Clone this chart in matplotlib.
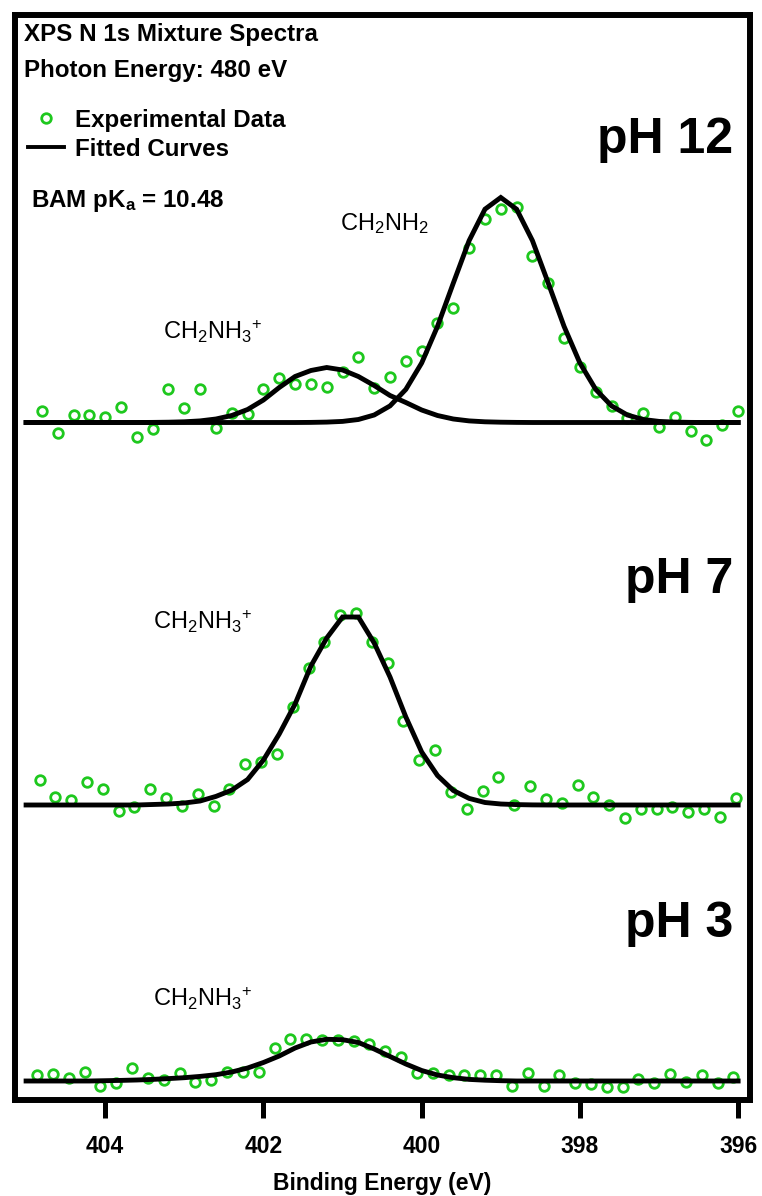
import numpy as np
import matplotlib.pyplot as plt
from matplotlib.lines import Line2D

plt.rcParams['font.family'] = ['Liberation Sans', 'DejaVu Sans']
plt.rcParams['mathtext.fontset'] = 'custom'
plt.rcParams['mathtext.rm'] = 'Liberation Sans'
plt.rcParams['mathtext.it'] = 'Liberation Sans:italic'
plt.rcParams['mathtext.bf'] = 'Liberation Sans:bold'

# N 1s spectra, intensity above each trace's own baseline (a.u.)
n_points = 45
start_ph12, start_ph7, start_ph3 = 404.80, 404.83, 404.86
step = 0.2

data_ph12 = [11.8, -10.8, 7.5, 7.5, 5.8, 15.8, -14.2, -6.8, 33.2, 14.2,
             33.8, -5.2, 9.8, 8.5, 33.2, 44.5, 38.5, 38.5, 35.8, 50.8,
             65.8, 34.2, 45.5, 61.5, 71.5, 99.2, 114.2, 174.8, 203.2, 213.5,
             215.8, 166.5, 139.8, 84.8, 55.8, 30.2, 16.5, 4.2, 9.2, -4.2,
             5.2, -8.2, -17.5, -2.5, 11.8]
data_ph7 = [25, 7.7, 5, 23.3, 16, -5.7, -1.7, 16, 7.3, -1,
            11, -1, 15.7, 40.7, 43.3, 51, 97.7, 136.7, 163.3, 190,
            191.7, 163.3, 142.3, 84.3, 45, 55, 12.7, -4.3, 14.3, 28.3,
            0, 19, 5.7, 1.7, 20, 7.7, 0, -13.3, -4.3, -4.3,
            -2.3, -6.7, -4.3, -11.7, 6.7]
data_ph3 = [6, 6.7, 3.3, 9.3, -4.7, -2.3, 12.7, 2.7, 1, 7.7,
            -0.7, 1, 9.3, 9.3, 9.3, 33.3, 42, 42, 41, 41,
            40.3, 36.7, 29.7, 23.7, 7.7, 7.7, 6, 6, 6, 6,
            -4.7, 7.7, -4.7, 6, -2.3, -3.3, -5.7, -5.7, 2, -2.3,
            6.7, -1.3, 6, -2.3, 4.3]

# fitted components on the 405.0 -> 396.0 eV grid
fit_energy = np.linspace(405.0, 396.0, 46)
fit_ph12_nh2 = [0, 0, 0, 0, 0, 0, 0, 0, 0, 0,
                0, 0, 0, 0, 0, 0, 0, 0, 0.1, 0.4,
                1.1, 3.0, 7.5, 16.6, 33.1, 59.5, 96.1, 139.4, 181.9, 213.3,
                225.0, 213.3, 181.9, 139.4, 96.1, 59.5, 33.1, 16.6, 7.5, 3.0,
                1.1, 0.4, 0.1, 0, 0, 0]
fit_ph12_nh3 = [0, 0, 0, 0, 0, 0, 0, 0, 0.1, 0.3,
                0.7, 1.6, 3.5, 7.0, 13.0, 22.5, 35.0, 46.0, 52.0, 55.0,
                52.5, 46.0, 37.0, 27.0, 20.0, 12.5, 7.0, 3.5, 1.6, 0.7,
                0.3, 0.1, 0, 0, 0, 0, 0, 0, 0, 0,
                0, 0, 0, 0, 0, 0]
fit_ph7 = [0, 0, 0, 0, 0, 0, 0, 0, 0.5, 1.0,
           2.0, 4.0, 8.6, 14.9, 25.5, 45.0, 71.0, 101.0, 139.0, 167.0,
           188.0, 188.0, 162.0, 128.0, 88.0, 53.0, 29.5, 14.5, 6.6, 2.5,
           1.0, 0.4, 0.1, 0, 0, 0, 0, 0, 0, 0,
           0, 0, 0, 0, 0, 0]
fit_ph3 = [0, 0, 0, 0, 0, 0.3, 0.6, 1.0, 1.6, 2.4,
           3.3, 4.6, 6.3, 9.0, 13.0, 18.5, 25.0, 33.0, 39.0, 41.7,
           41.3, 38.5, 32.0, 24.5, 17.0, 10.5, 6.0, 3.3, 1.6, 0.8,
           0.3, 0, 0, 0, 0, 0, 0, 0, 0, 0,
           0, 0, 0, 0, 0, 0]

# vertical stacking of the three traces
offset_ph12, offset_ph7, offset_ph3 = 677.5, 295.0, 19.0

green = '#1ec81e'
line_kw = dict(color='black', lw=3.5, solid_joinstyle='miter', zorder=3)
dot_kw = dict(ls='none', marker='o', ms=6.9, mfc='none', mec=green, mew=2.0, zorder=2)
head_size = 17.4
label_size = 17


def energies(start):
    return np.round(start - step * np.arange(n_points), 3)


fig = plt.figure(figsize=(7.62, 11.96), dpi=100)
ax = fig.add_axes([15 / 762, 1 - 1100 / 1196, 735 / 762, 1085 / 1196])

ax.plot(energies(start_ph12), np.array(data_ph12) + offset_ph12, **dot_kw)
ax.plot(energies(start_ph7), np.array(data_ph7) + offset_ph7, **dot_kw)
ax.plot(energies(start_ph3), np.array(data_ph3) + offset_ph3, **dot_kw)

ax.plot(fit_energy, np.array(fit_ph12_nh2) + offset_ph12, **line_kw)
ax.plot(fit_energy, np.array(fit_ph12_nh3) + offset_ph12, **line_kw)
ax.plot(fit_energy, np.array(fit_ph7) + offset_ph7, **line_kw)
ax.plot(fit_energy, np.array(fit_ph3) + offset_ph3, **line_kw)

ax.set_xlim(405.14, 395.85)
ax.set_ylim(0, 1085)
ax.set_xticks([404, 402, 400, 398, 396])
ax.set_yticks([])
ax.tick_params(axis='x', direction='out', length=13, width=3.6, pad=12.5,
               labelsize=16.5)
for lab in ax.get_xticklabels():
    lab.set_fontweight('bold')
for sp in ax.spines.values():
    sp.set_linewidth(4.3)
ax.set_xlabel('Binding Energy (eV)', fontsize=16.5, fontweight='bold', labelpad=10)

# header text
ax.text(0.0122, 0.9763, 'XPS N 1s Mixture Spectra', transform=ax.transAxes,
        fontsize=head_size, fontweight='bold', va='baseline', ha='left')
ax.text(0.0122, 0.9426, 'Photon Energy: 480 eV', transform=ax.transAxes,
        fontsize=head_size, fontweight='bold', va='baseline', ha='left')
ax.text(0.0218, 0.823, r'BAM pK$_\mathbf{a}$ = 10.48', transform=ax.transAxes,
        fontsize=head_size, fontweight='bold', va='baseline', ha='left')

handles = [Line2D([], [], **dot_kw), Line2D([], [], color='black', lw=2.8)]
ax.legend(handles, ['Experimental Data', 'Fitted Curves'], loc='upper left',
          bbox_to_anchor=(-0.006, 0.929), frameon=False,
          prop={'weight': 'bold', 'size': head_size}, handlelength=1.53,
          handletextpad=0.45, labelspacing=0.23, borderaxespad=0.3)

# sample labels
for label, y in [('pH 12', 0.8728), ('pH 7', 0.4673), ('pH 3', 0.1502)]:
    ax.text(0.9769, y, label, transform=ax.transAxes, fontsize=36,
            fontweight='bold', ha='right', va='baseline')

# component labels
nh3 = r'$\mathrm{CH_2NH_3\!{}^+}$'
ax.text(403.27, offset_ph12 + 83.5, nh3, fontsize=label_size, va='baseline')
ax.text(401.03, offset_ph12 + 192.5, r'$\mathrm{CH_2NH_2}$', fontsize=label_size, va='baseline')
ax.text(403.40, offset_ph7 + 176, nh3, fontsize=label_size, va='baseline')
ax.text(403.40, offset_ph3 + 75, nh3, fontsize=label_size, va='baseline')

fig.savefig('out.png', dpi=100)
